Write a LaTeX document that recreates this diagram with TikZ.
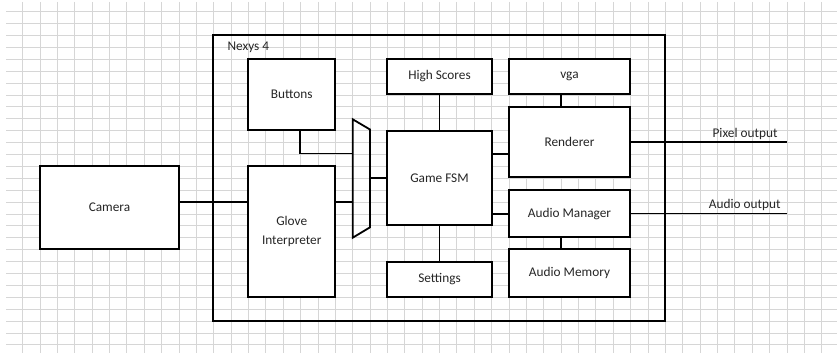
\documentclass[tikz,border=0pt]{standalone}
\usepackage{fontspec}
\setmainfont{Carlito}
\usepackage{tikz}
\usetikzlibrary{positioning,calc}

\begin{document}
\begin{tikzpicture}[
x=1pt, y=-1pt,
font=\fontsize{13.3}{18.3}\selectfont,
gridline/.style={draw=black!16, line width=0.9pt},
block/.style={draw, line width=1.8pt, fill=white, outer sep=0pt, inner sep=2pt, align=center, text=black!85},
lbl/.style={inner sep=0pt, text=black!85},
wire/.style={line width=1.8pt}
]
\useasboundingbox (0,0) rectangle (837,353);
\fill[white] (0,0) rectangle (837,353);
% sheet grid
\foreach \i in {1,...,47}
  \draw[gridline] ({5.3+17.37*\i},2) -- ({5.3+17.37*\i},353);
\foreach \j in {0,...,28}
  \draw[gridline] (6,{11.7+11.9*\j}) -- (837,{11.7+11.9*\j});

\node[draw, line width=1.8pt, outer sep=0pt, minimum width=452pt, minimum height=286pt] (nexys) at (439,178) {};
\node[lbl, anchor=west] (nexyslbl) at ([xshift=14.3pt, yshift=-12.3pt]nexys.north west) {Nexys 4};

\node[block, minimum width=139pt, minimum height=83.3pt] (camera) at (109.5,207.7) {Camera};
\node[block, minimum width=86.7pt, minimum height=71pt] (buttons) at (291.7,94.5) {Buttons};
\node[block, minimum width=86.7pt, minimum height=131pt, below=36pt of buttons] (glove) {Glove\\Interpreter};

\node[block, minimum width=104.4pt, minimum height=35pt] (hiscores) at (439.5,76.5) {High Scores};
\node[block, minimum width=104.4pt, minimum height=94.6pt, below=36.7pt of hiscores] (fsm) {Game FSM};
\node[block, minimum width=104.4pt, minimum height=35.3pt, below=36.4pt of fsm] (settings) {Settings};

\node[block, minimum width=121pt, minimum height=35pt] (vga) at (569.5,76.5) {vga};
\node[block, minimum width=121pt, minimum height=70.6pt, below=12.7pt of vga] (renderer) {Renderer};
\node[block, minimum width=121pt, minimum height=47.3pt, below=12.7pt of renderer] (audiomgr) {Audio Manager};
\node[block, minimum width=121pt, minimum height=47.7pt, below=12pt of audiomgr] (audiomem) {Audio Memory};

% input mux
\coordinate (mux-tl) at (352.7,119.3);
\coordinate (mux-tr) at (370,129.5);
\coordinate (mux-br) at (370,227.3);
\coordinate (mux-bl) at (352.7,237.7);
\coordinate (btnin) at (352.7,153.5);
\draw[wire] (mux-tl) -- (mux-tr) -- (mux-br) -- (mux-bl) -- cycle;

\coordinate (camlink) at ([yshift=5.7pt]camera.east);
\coordinate (pixend) at (787.3,142.3);
\coordinate (audend) at (787.3,213.5);

\draw[wire] (camlink) -- (camlink -| glove.west);
\draw[wire] (camlink -| glove.east) -- (camlink -| mux-bl);
\draw[wire] ([xshift=8.3pt]buttons.south) |- (btnin);
\draw[wire] (mux-tr |- fsm.west) -- (fsm.west);
\draw[wire] (hiscores) -- (fsm);
\draw[wire] (fsm) -- (settings);
\draw[wire] ([yshift=24pt]fsm.east) -- ([yshift=24pt]fsm.east -| renderer.west);
\draw[wire] (audiomgr.west -| fsm.east) -- (audiomgr.west);
\draw[wire] ([xshift=-8.5pt]vga.south) -- ([xshift=-8.5pt]vga.south |- renderer.north);
\draw[wire] ([xshift=-8.5pt]audiomgr.south) -- ([xshift=-8.5pt]audiomgr.south |- audiomem.north);
\draw[wire] (renderer.east |- pixend) -- (pixend);
\draw[wire] (audiomgr.east |- audend) -- (audend);

\node[lbl, anchor=east] (pixlbl) at ([xshift=-9.6pt, yshift=8.6pt]pixend) {Pixel output};
\node[lbl, anchor=east] (audlbl) at ([xshift=-6.6pt, yshift=8.5pt]audend) {Audio output};
\end{tikzpicture}
\end{document}
